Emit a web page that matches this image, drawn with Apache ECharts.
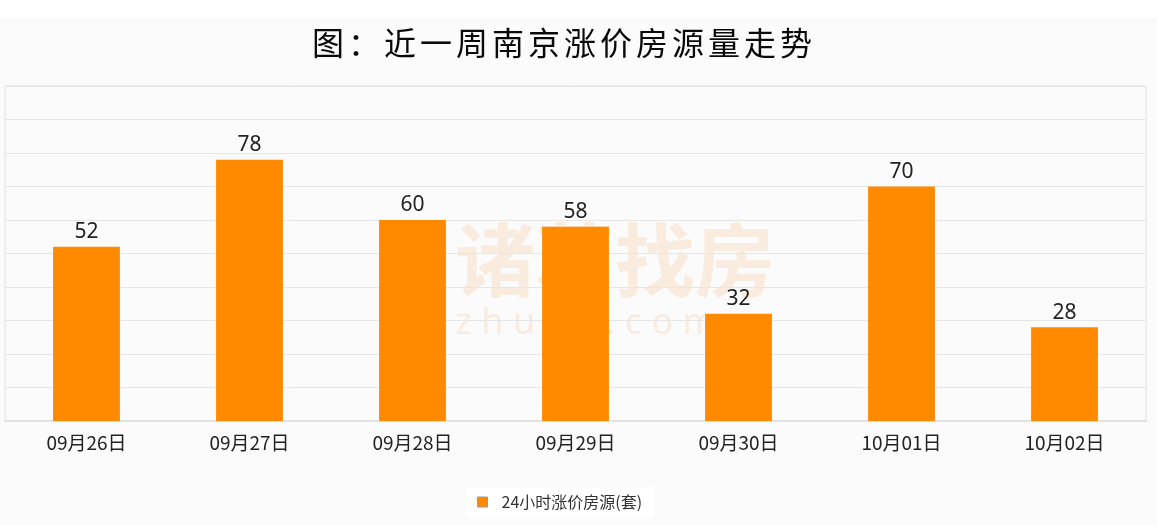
<!DOCTYPE html>
<html><head><meta charset="utf-8">
<script src="https://cdn.jsdelivr.net/npm/echarts@6/dist/echarts.min.js"></script>
<style>html,body{margin:0;padding:0;background:#fbfbfb;}#c{width:1157px;height:525px;}</style>
</head><body><div id="c"></div>
<script>
const titleText = '图：近一周南京涨价房源量走势';
const categories = ['09月26日','09月27日','09月28日','09月29日','09月30日','10月01日','10月02日'];
const seriesName = '24小时涨价房源(套)';
const values = [52, 78, 60, 58, 32, 70, 28];
const yMin = 0, yMax = 100, yInterval = 10;

const titleRich = Array.from(titleText).map(ch => '{a|' + ch + '}').join('');

const chart = echarts.init(document.getElementById('c'));
chart.setOption({
  backgroundColor: '#fbfbfb',
  animation: false,
  graphic: [
    {type:'rect', left:0, top:0, shape:{width:1157, height:18}, style:{fill:'#ffffff'}, z:-10},
    {type:'text', left:455, top:220, style:{text:'诸葛找房', font:'bold 80px "Noto Sans CJK SC"', fill:'rgba(250,200,160,0.3)'}, z:-1},
    {type:'text', left:455, top:306, style:{text:'z h u g e . c o m', font:'36px "Noto Sans"', fill:'rgba(250,200,160,0.3)'}, z:-1}
  ],
  title: {
    text: titleRich, left: 305, top: 22,
    textStyle: {
      rich: {a: {width: 36, align: 'center', fontFamily:'Noto Sans CJK SC', fontSize: 32, fontWeight: 'normal', color:'#0a0a0a'}}
    }
  },
  legend: {
    data: [seriesName], left: 467, top: 487,
    backgroundColor: '#ffffff', padding: [7, 12, 7, 10],
    itemWidth: 10, itemHeight: 10, icon: 'rect', itemGap: 10,
    itemStyle: {borderColor:'#999', borderWidth:1},
    textStyle: {fontFamily:'Noto Sans CJK SC', fontSize: 16, color:'#333', padding: [0, 0, 0, 9]}
  },
  grid: {left: 5, right: 11, top: 86, bottom: 104, show: true, borderColor: '#e2e2e2', borderWidth: 1, backgroundColor:'transparent'},
  xAxis: {
    type: 'category', data: categories,
    axisLine: {show: true, lineStyle: {color: '#e2e2e2', width: 2}},
    axisTick: {show: false},
    axisLabel: {fontFamily:'Noto Sans CJK SC', fontSize: 19, color:'#222', margin: 12}
  },
  yAxis: {
    type: 'value', min: yMin, max: yMax, interval: yInterval,
    axisLine: {show: false}, axisTick: {show: false}, axisLabel: {show: false},
    splitLine: {lineStyle: {color: '#e6e6e6', width: 1}}
  },
  series: [{
    name: seriesName, type: 'bar', data: values, barWidth: '41%',
    itemStyle: {color: '#ff8a00'},
    label: {show: true, position: 'top', distance: 4, fontFamily:'Noto Sans', fontSize: 21, color:'#222'}
  }]
});
</script></body></html>
